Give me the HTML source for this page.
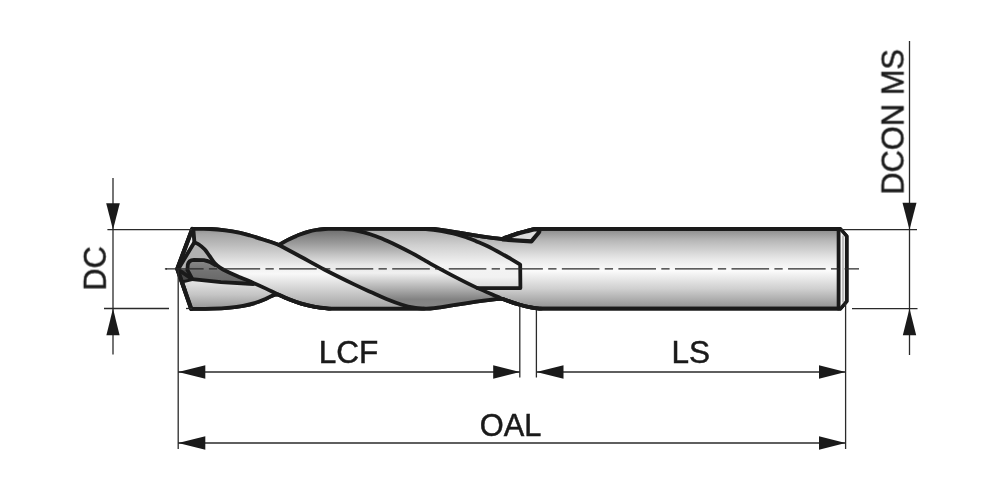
<!DOCTYPE html>
<html>
<head>
<meta charset="utf-8">
<title>Drill dimension drawing</title>
<style>
  html, body { margin: 0; padding: 0; background: #ffffff; }
  body { width: 1000px; height: 491px; overflow: hidden; font-family: "Liberation Sans", sans-serif; }
  svg { display: block; }
  text { font-family: "Liberation Sans", sans-serif; fill: #1a1a1a; }
</style>
</head>
<body>
<svg width="1000" height="491" viewBox="0 0 1000 491">
  <defs>
    <!-- cylinder shading, spans y=229..309 -->
    <linearGradient id="gShank" gradientUnits="userSpaceOnUse" x1="0" y1="229" x2="0" y2="309">
      <stop offset="0" stop-color="#8a8a8a"/>
      <stop offset="0.15" stop-color="#b9b9b9"/>
      <stop offset="0.38" stop-color="#e9e9e9"/>
      <stop offset="0.52" stop-color="#fbfbfb"/>
      <stop offset="0.75" stop-color="#cfcfcf"/>
      <stop offset="1" stop-color="#8f8f8f"/>
    </linearGradient>
    <linearGradient id="gDark" gradientUnits="userSpaceOnUse" x1="0" y1="229" x2="0" y2="309">
      <stop offset="0" stop-color="#6c6c6c"/>
      <stop offset="0.2" stop-color="#a0a0a0"/>
      <stop offset="0.45" stop-color="#e8e8e8"/>
      <stop offset="0.55" stop-color="#f0f0f0"/>
      <stop offset="0.88" stop-color="#828282"/>
      <stop offset="1" stop-color="#868686"/>
    </linearGradient>
    <linearGradient id="gLight" gradientUnits="userSpaceOnUse" x1="0" y1="229" x2="0" y2="309">
      <stop offset="0" stop-color="#a8a8a8"/>
      <stop offset="0.2" stop-color="#cfcfcf"/>
      <stop offset="0.45" stop-color="#f4f4f4"/>
      <stop offset="0.6" stop-color="#f2f2f2"/>
      <stop offset="0.85" stop-color="#c2c2c2"/>
      <stop offset="1" stop-color="#9a9a9a"/>
    </linearGradient>
    <linearGradient id="gLobe1" gradientUnits="userSpaceOnUse" x1="0" y1="229" x2="0" y2="309">
      <stop offset="0" stop-color="#8e8e8e"/>
      <stop offset="0.06" stop-color="#a4a4a4"/>
      <stop offset="0.2" stop-color="#bcbcbc"/>
      <stop offset="0.35" stop-color="#d8d8d8"/>
      <stop offset="0.47" stop-color="#f0f0f0"/>
      <stop offset="0.56" stop-color="#f8f8f8"/>
      <stop offset="0.8" stop-color="#c8c8c8"/>
      <stop offset="1" stop-color="#a0a0a0"/>
    </linearGradient>
    <linearGradient id="gLower" gradientUnits="userSpaceOnUse" x1="0" y1="281" x2="0" y2="309">
      <stop offset="0" stop-color="#e4e4e4"/>
      <stop offset="0.5" stop-color="#c4c4c4"/>
      <stop offset="1" stop-color="#949494"/>
    </linearGradient>
    <linearGradient id="gMouth" gradientUnits="userSpaceOnUse" x1="0" y1="259" x2="0" y2="284">
      <stop offset="0" stop-color="#8c8c8c"/>
      <stop offset="0.5" stop-color="#727272"/>
      <stop offset="1" stop-color="#666666"/>
    </linearGradient>
  </defs>

  <!-- ===== drill body ===== -->
  <g id="drill" stroke="#1a1a1a" stroke-width="3.8" stroke-linejoin="round" stroke-linecap="round" fill="none">
    <!-- full silhouette -->
    <path id="body" fill="url(#gShank)" d="M177.30,268.90 L192.30,229.00 C195.25,229.00 204.55,228.78 210.00,229.00 C215.45,229.22 220.00,229.65 225.00,230.30 C230.00,230.95 235.83,232.03 240.00,232.90 C244.17,233.77 246.67,234.55 250.00,235.50 C253.33,236.45 256.67,237.55 260.00,238.60 C263.33,239.65 266.83,240.73 270.00,241.80 C273.17,242.87 277.50,244.47 279.00,245.00 C280.33,244.23 284.17,241.87 287.00,240.40 C289.83,238.93 293.83,237.18 296.00,236.20 C298.17,235.22 298.00,235.23 300.00,234.50 C302.00,233.77 305.33,232.55 308.00,231.80 C310.67,231.05 313.17,230.47 316.00,230.00 C318.83,229.53 322.33,229.18 325.00,229.00 C327.67,228.82 330.83,228.96 332.00,228.95 L434.00,229.00 C436.33,229.33 443.33,230.30 448.00,231.00 C452.67,231.70 456.17,232.25 462.00,233.20 C467.83,234.15 477.67,235.87 483.00,236.70 C488.33,237.53 490.78,237.82 494.00,238.20 C497.22,238.58 500.92,238.87 502.30,239.00 C502.92,238.82 503.98,238.17 506.00,237.40 C508.02,236.63 512.07,235.27 514.40,234.50 C516.73,233.73 517.97,233.38 520.00,232.80 C522.03,232.22 524.60,231.53 526.60,231.00 C528.60,230.47 530.47,229.94 532.00,229.60 C533.53,229.26 534.72,229.06 535.80,228.95 C536.88,228.84 538.05,228.95 538.50,228.95 L840.20,229.00 L846.60,236.30 L846.60,301.30 L840.20,308.70 L541.00,308.70 C539.50,308.53 535.83,308.45 532.00,307.70 C528.17,306.95 522.90,305.65 518.00,304.20 C513.10,302.75 505.17,299.87 502.60,299.00 C499.58,298.80 494.25,299.28 490.00,299.80 C485.75,300.32 481.83,300.85 476.00,301.70 C470.17,302.55 461.00,303.97 455.00,304.90 C449.00,305.83 444.17,306.70 440.00,307.30 C435.83,307.90 433.33,308.27 430.00,308.50 C426.67,308.73 421.67,308.67 420.00,308.70 L330.00,308.70 C327.50,308.38 319.78,307.65 315.00,306.80 C310.22,305.95 305.63,304.85 301.30,303.60 C296.97,302.35 292.88,300.83 289.00,299.30 C285.12,297.77 279.83,295.22 278.00,294.40 C276.30,294.23 274.80,294.53 272.80,295.40 C270.80,296.27 267.88,297.97 265.00,299.20 C262.12,300.43 259.17,301.70 255.50,302.80 C251.83,303.90 247.25,305.00 243.00,305.80 C238.75,306.60 235.17,307.12 230.00,307.60 C224.83,308.08 218.47,308.48 212.00,308.70 C205.53,308.92 194.67,308.87 191.20,308.90 Z"/>
    <!-- shaded regions of the fluted part -->
    <path fill="url(#gLobe1)" stroke="none" d="M192.30,229.00 C195.25,229.00 204.55,228.78 210.00,229.00 C215.45,229.22 220.00,229.65 225.00,230.30 C230.00,230.95 235.83,232.03 240.00,232.90 C244.17,233.77 246.67,234.55 250.00,235.50 C253.33,236.45 256.67,237.55 260.00,238.60 C263.33,239.65 266.83,240.73 270.00,241.80 C273.17,242.87 277.50,244.47 279.00,245.00 C282.72,247.00 293.68,252.88 301.30,257.00 C308.92,261.12 315.98,265.18 324.70,269.70 C333.42,274.22 345.72,280.28 353.60,284.10 C361.48,287.92 366.43,290.08 372.00,292.60 C377.57,295.12 382.00,297.18 387.00,299.20 C392.00,301.22 397.50,303.28 402.00,304.70 C406.50,306.12 410.33,307.03 414.00,307.70 C417.67,308.37 422.33,308.53 424.00,308.70 L330.00,308.70 C327.50,308.38 319.78,307.65 315.00,306.80 C310.22,305.95 305.63,304.85 301.30,303.60 C296.97,302.35 292.88,300.83 289.00,299.30 C285.12,297.77 281.83,296.18 278.00,294.40 C274.17,292.62 270.10,290.52 266.00,288.60 C261.90,286.68 257.65,284.77 253.40,282.90 C249.15,281.03 244.90,279.30 240.50,277.40 C236.10,275.50 230.42,273.13 227.00,271.50 C223.58,269.87 222.07,269.02 220.00,267.60 C217.93,266.18 216.35,264.95 214.60,263.00 C212.85,261.05 211.17,258.18 209.50,255.90 C207.83,253.62 206.37,251.20 204.60,249.30 C202.83,247.40 200.60,245.65 198.90,244.50 C197.20,243.35 195.15,242.75 194.40,242.40 Z"/>
    <path fill="url(#gDark)" stroke="none" d="M279.00,245.00 C280.33,244.23 284.17,241.87 287.00,240.40 C289.83,238.93 293.83,237.18 296.00,236.20 C298.17,235.22 298.00,235.23 300.00,234.50 C302.00,233.77 305.33,232.55 308.00,231.80 C310.67,231.05 313.17,230.47 316.00,230.00 C318.83,229.53 322.33,229.18 325.00,229.00 C327.67,228.82 330.83,228.96 332.00,228.95 L345.00,229.00 C346.67,229.22 351.83,229.73 355.00,230.30 C358.17,230.87 360.50,231.40 364.00,232.40 C367.50,233.40 372.00,234.82 376.00,236.30 C380.00,237.78 384.00,239.52 388.00,241.30 C392.00,243.08 396.00,245.02 400.00,247.00 C404.00,248.98 408.00,251.05 412.00,253.20 C416.00,255.35 420.33,257.83 424.00,259.90 C427.67,261.97 428.83,262.77 434.00,265.60 C439.17,268.43 448.00,273.27 455.00,276.90 C462.00,280.53 469.00,284.13 476.00,287.40 C483.00,290.67 492.57,294.57 497.00,296.50 C501.43,298.43 501.67,298.58 502.60,299.00 C499.58,298.80 494.25,299.28 490.00,299.80 C485.75,300.32 481.83,300.85 476.00,301.70 C470.17,302.55 461.00,303.97 455.00,304.90 C449.00,305.83 444.17,306.70 440.00,307.30 C435.83,307.90 433.33,308.27 430.00,308.50 C426.67,308.73 421.67,308.67 420.00,308.70 L424.00,308.70 C422.33,308.53 417.67,308.37 414.00,307.70 C410.33,307.03 406.50,306.12 402.00,304.70 C397.50,303.28 392.00,301.22 387.00,299.20 C382.00,297.18 377.57,295.12 372.00,292.60 C366.43,290.08 361.48,287.92 353.60,284.10 C345.72,280.28 333.42,274.22 324.70,269.70 C315.98,265.18 308.92,261.12 301.30,257.00 C293.68,252.88 282.72,247.00 279.00,245.00 Z"/>
    <path fill="url(#gLight)" stroke="none" d="M345,229 L426.00,229.20 C427.83,229.40 433.33,229.88 437.00,230.40 C440.67,230.92 444.67,231.65 448.00,232.30 C451.33,232.95 453.97,233.47 457.00,234.30 C460.03,235.13 463.03,236.15 466.20,237.30 C469.37,238.45 472.50,239.75 476.00,241.20 C479.50,242.65 482.53,243.70 487.20,246.00 C491.87,248.30 499.87,252.73 504.00,255.00 C508.13,257.27 509.30,258.00 512.00,259.60 C514.70,261.20 518.83,263.77 520.20,264.60 L520.40,288.10 L477.40,288.10 C473.67,286.23 462.23,280.65 455.00,276.90 C447.77,273.15 439.17,268.43 434.00,265.60 C428.83,262.77 427.67,261.97 424.00,259.90 C420.33,257.83 416.00,255.35 412.00,253.20 C408.00,251.05 404.00,248.98 400.00,247.00 C396.00,245.02 392.00,243.08 388.00,241.30 C384.00,239.52 380.00,237.78 376.00,236.30 C372.00,234.82 367.50,233.40 364.00,232.40 C360.50,231.40 358.17,230.87 355.00,230.30 C351.83,229.73 346.67,229.22 345.00,229.00 Z"/>
    <path fill="url(#gLower)" stroke="none" d="M192.40,279.50 L220.90,282.20 L253.40,283.60 C255.50,283.68 261.90,286.65 266.00,288.60 C270.10,290.55 276.00,293.43 278.00,294.40 C276.30,294.23 274.80,294.53 272.80,295.40 C270.80,296.27 267.88,297.97 265.00,299.20 C262.12,300.43 259.17,301.70 255.50,302.80 C251.83,303.90 247.25,305.00 243.00,305.80 C238.75,306.60 235.17,307.12 230.00,307.60 C224.83,308.08 218.47,308.48 212.00,308.70 C205.53,308.92 194.67,308.87 191.20,308.90 L186.00,293.00 Z"/>

    <!-- tip: grey clearance face + dark flute mouth -->
    <path fill="#b2b2b2" stroke="none" d="M194.4,242 L178.5,268.6 L192,279 L215,263 C212,256 207,249 194.4,242 Z"/>
    <path fill="#f2f2f2" stroke="none" d="M192.6,231 L194.4,242 L180,266 Z"/>
    <path fill="url(#gMouth)" stroke="none" d="M187.6,269 L187.8,264.6 C188.4,261.2 190.8,260 194,259.8 L203.8,260.1 C208,260.8 212,262.4 215.2,265 C222,269.4 232,274 240.5,277.4 L253.4,283.4 L230,283 L192.2,279 Z"/>
    <path fill="#484848" stroke="none" d="M178.5,269.6 L187.4,269.6 L192.2,279 L183,281.6 Z"/>

    <!-- interior line work -->
    <path d="M177.30,268.90 L192.30,229.00 C195.25,229.00 204.55,228.78 210.00,229.00 C215.45,229.22 220.00,229.65 225.00,230.30 C230.00,230.95 235.83,232.03 240.00,232.90 C244.17,233.77 246.67,234.55 250.00,235.50 C253.33,236.45 256.67,237.55 260.00,238.60 C263.33,239.65 266.83,240.73 270.00,241.80 C273.17,242.87 277.50,244.47 279.00,245.00 C280.33,244.23 284.17,241.87 287.00,240.40 C289.83,238.93 293.83,237.18 296.00,236.20 C298.17,235.22 298.00,235.23 300.00,234.50 C302.00,233.77 305.33,232.55 308.00,231.80 C310.67,231.05 313.17,230.47 316.00,230.00 C318.83,229.53 322.33,229.18 325.00,229.00 C327.67,228.82 330.83,228.96 332.00,228.95 L434.00,229.00 C436.33,229.33 443.33,230.30 448.00,231.00 C452.67,231.70 456.17,232.25 462.00,233.20 C467.83,234.15 477.67,235.87 483.00,236.70 C488.33,237.53 490.78,237.82 494.00,238.20 C497.22,238.58 500.92,238.87 502.30,239.00 C502.92,238.82 503.98,238.17 506.00,237.40 C508.02,236.63 512.07,235.27 514.40,234.50 C516.73,233.73 517.97,233.38 520.00,232.80 C522.03,232.22 524.60,231.53 526.60,231.00 C528.60,230.47 530.47,229.94 532.00,229.60 C533.53,229.26 534.72,229.06 535.80,228.95 C536.88,228.84 538.05,228.95 538.50,228.95 L840.20,229.00 L846.60,236.30 L846.60,301.30 L840.20,308.70 L541.00,308.70 C539.50,308.53 535.83,308.45 532.00,307.70 C528.17,306.95 522.90,305.65 518.00,304.20 C513.10,302.75 505.17,299.87 502.60,299.00 C499.58,298.80 494.25,299.28 490.00,299.80 C485.75,300.32 481.83,300.85 476.00,301.70 C470.17,302.55 461.00,303.97 455.00,304.90 C449.00,305.83 444.17,306.70 440.00,307.30 C435.83,307.90 433.33,308.27 430.00,308.50 C426.67,308.73 421.67,308.67 420.00,308.70 L330.00,308.70 C327.50,308.38 319.78,307.65 315.00,306.80 C310.22,305.95 305.63,304.85 301.30,303.60 C296.97,302.35 292.88,300.83 289.00,299.30 C285.12,297.77 279.83,295.22 278.00,294.40 C276.30,294.23 274.80,294.53 272.80,295.40 C270.80,296.27 267.88,297.97 265.00,299.20 C262.12,300.43 259.17,301.70 255.50,302.80 C251.83,303.90 247.25,305.00 243.00,305.80 C238.75,306.60 235.17,307.12 230.00,307.60 C224.83,308.08 218.47,308.48 212.00,308.70 C205.53,308.92 194.67,308.87 191.20,308.90 Z"/>
    <path d="M279.00,245.00 C282.72,247.00 293.68,252.88 301.30,257.00 C308.92,261.12 315.98,265.18 324.70,269.70 C333.42,274.22 345.72,280.28 353.60,284.10 C361.48,287.92 366.43,290.08 372.00,292.60 C377.57,295.12 382.00,297.18 387.00,299.20 C392.00,301.22 397.50,303.28 402.00,304.70 C406.50,306.12 410.33,307.03 414.00,307.70 C417.67,308.37 422.33,308.53 424.00,308.70"/>
    <path d="M345.00,229.00 C346.67,229.22 351.83,229.73 355.00,230.30 C358.17,230.87 360.50,231.40 364.00,232.40 C367.50,233.40 372.00,234.82 376.00,236.30 C380.00,237.78 384.00,239.52 388.00,241.30 C392.00,243.08 396.00,245.02 400.00,247.00 C404.00,248.98 408.00,251.05 412.00,253.20 C416.00,255.35 420.33,257.83 424.00,259.90 C427.67,261.97 428.83,262.77 434.00,265.60 C439.17,268.43 448.00,273.27 455.00,276.90 C462.00,280.53 469.00,284.13 476.00,287.40 C483.00,290.67 492.57,294.57 497.00,296.50 C501.43,298.43 499.10,297.72 502.60,299.00 C506.10,300.28 513.10,302.75 518.00,304.20 C522.90,305.65 528.17,306.95 532.00,307.70 C535.83,308.45 539.50,308.53 541.00,308.70"/>
    <path d="M426.00,229.20 C427.83,229.40 433.33,229.88 437.00,230.40 C440.67,230.92 444.67,231.65 448.00,232.30 C451.33,232.95 453.97,233.47 457.00,234.30 C460.03,235.13 463.03,236.15 466.20,237.30 C469.37,238.45 472.50,239.75 476.00,241.20 C479.50,242.65 482.53,243.70 487.20,246.00 C491.87,248.30 499.87,252.73 504.00,255.00 C508.13,257.27 509.30,258.00 512.00,259.60 C514.70,261.20 518.83,263.77 520.20,264.60 L520.40,288.10 L477.40,288.10"/>
    <path d="M194.40,242.40 C195.15,242.75 197.20,243.35 198.90,244.50 C200.60,245.65 202.83,247.40 204.60,249.30 C206.37,251.20 207.83,253.62 209.50,255.90 C211.17,258.18 212.85,261.05 214.60,263.00 C216.35,264.95 217.93,266.18 220.00,267.60 C222.07,269.02 223.58,269.87 227.00,271.50 C230.42,273.13 236.10,275.50 240.50,277.40 C244.90,279.30 249.15,281.03 253.40,282.90 C257.65,284.77 261.90,286.68 266.00,288.60 C270.10,290.52 274.17,292.62 278.00,294.40 C281.83,296.18 285.12,297.77 289.00,299.30 C292.88,300.83 296.97,302.35 301.30,303.60 C305.63,304.85 310.22,305.95 315.00,306.80 C319.78,307.65 327.50,308.38 330.00,308.70"/>
    <!-- cutting edge / margin -->
    <path stroke-width="3.9" d="M193.4,230.6 L194.4,242.2 L178.6,268.4"/>
    <!-- flute mouth curve -->
    <path d="M192.2,279 L187.4,269.8 L187.8,264.6 C188.4,261.2 190.8,260 194,259.8 L203.8,260.1 C208,260.8 212,262.4 215.2,265"/>
    <!-- web line -->
    <path stroke-width="3.8" d="M178,269.4 L192.2,279.2 L220.9,282.1 L253.4,284"/>
    <path stroke-width="4.3" d="M192.3,229 L177.3,268.9 L191.2,308.9"/>
    <path stroke-width="3" d="M182.6,281.8 L192.2,279.6"/>
    <!-- flute run-out chip at the shank -->
    <path fill="#dedede" stroke-width="4.2" d="M502.6,239.4 C504,238.8 510,236.3 514.4,234.8 C519,233.2 523,232.2 526.6,231.3 C530,230.4 533,229.5 535.8,229.2 C538.6,229.2 540.0,230.8 538.8,232.5 L531.4,241.3 C524,241.0 512,240.3 502.6,239.4 Z"/>
    <!-- shank end chamfer -->
    <path fill="#f4f4f4" stroke="none" d="M838.6,229 L840.2,229 L846.6,236.3 L846.6,301.3 L840.2,308.7 L838.6,308.7 Z"/>
    <path d="M838.6,229 L838.6,308.7"/>
    <path stroke-width="2.9" d="M840.2,229 L846.4,236.3 L846.4,301.3 L840.2,308.7"/>
    <path stroke="#8a8a8a" stroke-width="1" d="M843,236 L843,302"/>
  </g>

  <!-- ===== dimension lines ===== -->
  <g id="dims" stroke="#2a2a2a" stroke-width="1.3" fill="none">
    <!-- DC -->
    <line x1="113" y1="178" x2="113" y2="354.5"/>
    <line x1="107.4" y1="229.6" x2="192" y2="229.6"/>
    <line x1="104" y1="308.5" x2="169" y2="308.5"/>
    <line x1="186" y1="308.5" x2="192" y2="308.5"/>
    <!-- DCON MS -->
    <line x1="909.5" y1="41" x2="909.5" y2="355"/>
    <line x1="841" y1="229.6" x2="917" y2="229.6"/>
    <line x1="852" y1="308.6" x2="917.5" y2="308.6"/>
    <!-- verticals -->
    <line x1="178.2" y1="270" x2="178.2" y2="449"/>
    <line x1="519.8" y1="307" x2="519.8" y2="377.5"/>
    <line x1="536.4" y1="310" x2="536.4" y2="377.5"/>
    <line x1="845.6" y1="303.5" x2="845.6" y2="449"/>
    <!-- LCF / LS / OAL -->
    <line x1="178" y1="372" x2="520" y2="372" stroke-width="1.4"/>
    <line x1="536.4" y1="372" x2="845.6" y2="372" stroke-width="1.4"/>
    <line x1="178" y1="443" x2="845.6" y2="443" stroke-width="1.4"/>
  </g>
  <g id="arrows" fill="#1a1a1a" stroke="none">
    <polygon points="113,229.8 106.2,203.2 119.8,203.2"/>
    <polygon points="113,308.4 106.4,335.2 119.6,335.2"/>
    <polygon points="909.5,229.8 902.5,202.8 916.5,202.8"/>
    <polygon points="909.5,308.4 902.8,335.2 916.2,335.2"/>
    <polygon points="178.2,372 205.3,365.2 205.3,378.8"/>
    <polygon points="520,372 493.2,365.2 493.2,378.8"/>
    <polygon points="536.4,372 563.5,365.2 563.5,378.8"/>
    <polygon points="845.6,372 819,365.2 819,378.8"/>
    <polygon points="178.2,443 205.3,436.2 205.3,449.8"/>
    <polygon points="845.6,443 819,436.2 819,449.8"/>
  </g>

  <!-- centre line -->
  <line x1="166" y1="268.9" x2="859" y2="268.9" stroke="#2a2a2a" stroke-width="1.4" stroke-dasharray="37.6 5.3 8.3 5.35"/>
  <line x1="164.9" y1="268.9" x2="167" y2="268.9" stroke="#2a2a2a" stroke-width="1.4"/>

  <!-- ===== labels ===== -->
  <g font-size="32" style="opacity:0.999" stroke="#1a1a1a" stroke-width="0.5">
    <text transform="translate(318.66,362.55) scale(0.9860,1.0044)">LCF</text>
    <text transform="translate(671.56,362.55) scale(0.9859,1.0000)">LS</text>
    <text transform="translate(479.80,436.15) scale(0.9629,0.9911)">OAL</text>
    <text transform="translate(105.72,290.69) rotate(-90) scale(0.9633,0.9643)">DC</text>
    <text transform="translate(903.50,194.69) rotate(-90) scale(0.9647,0.9978)">DCON MS</text>
  </g>
</svg>
</body>
</html>
